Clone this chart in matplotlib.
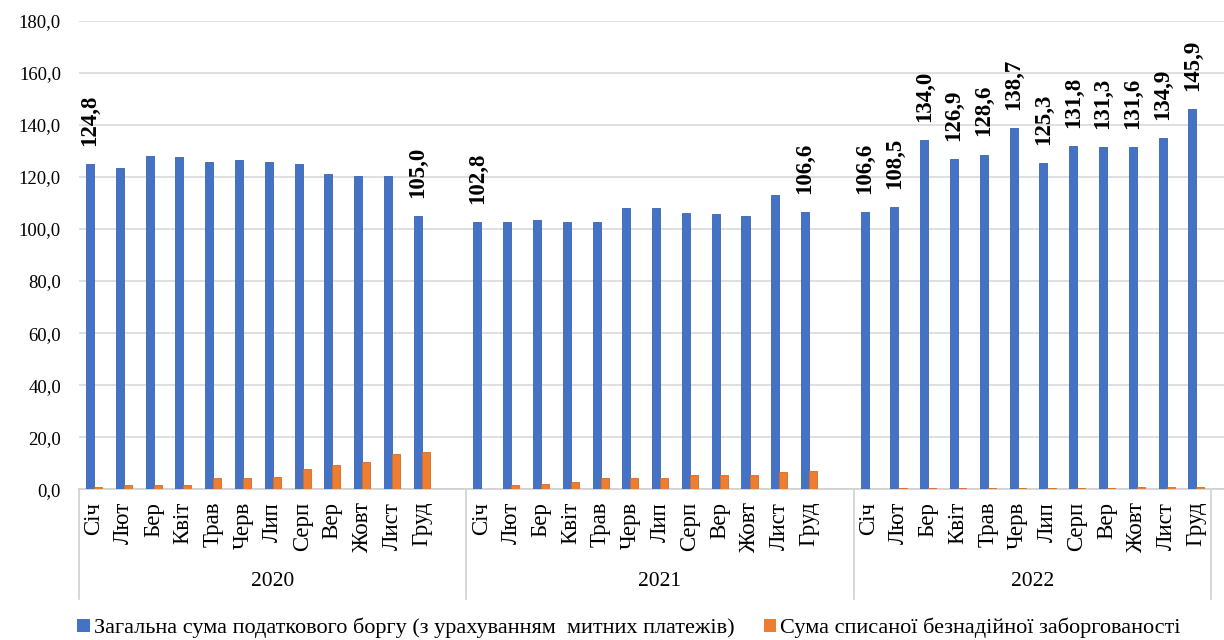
import numpy as np
import matplotlib
matplotlib.use("Agg")
import matplotlib.pyplot as plt
from matplotlib.patches import Patch
from matplotlib.ticker import FuncFormatter
import matplotlib.transforms as mtransforms

plt.rcParams['font.family'] = ['Liberation Serif', 'DejaVu Serif']

years = ['2020', '2021', '2022']
months = ['Січ', 'Лют', 'Бер', 'Квіт', 'Трав', 'Черв', 'Лип', 'Серп', 'Вер', 'Жовт', 'Лист', 'Груд']

# загальна сума податкового боргу, млрд грн
debt_2020 = [124.8, 123.6, 128.0, 127.5, 125.8, 126.4, 125.8, 124.8, 121.3, 120.2, 120.2, 105.0]
debt_2021 = [102.8, 102.8, 103.4, 102.8, 102.8, 107.9, 107.9, 106.1, 105.6, 105.0, 112.9, 106.6]
debt_2022 = [106.6, 108.5, 134.0, 126.9, 128.6, 138.7, 125.3, 131.8, 131.3, 131.6, 134.9, 145.9]

# сума списаної безнадійної заборгованості
writeoff_2020 = [1.0, 1.5, 1.5, 1.5, 4.4, 4.4, 4.9, 7.7, 9.4, 10.5, 13.4, 14.5]
writeoff_2021 = [0.0, 1.5, 2.2, 2.7, 4.4, 4.4, 4.4, 5.5, 5.5, 5.5, 6.7, 7.2]
writeoff_2022 = [0.0, 0.4, 0.5, 0.5, 0.5, 0.5, 0.5, 0.5, 0.5, 1.0, 1.0, 1.0]

# which bars carry a value label (month index per year)
labelled = [[0, 11], [0, 11], list(range(12))]

legend_names = ['Загальна сума податкового боргу (з урахуванням  митних платежів)',
                'Сума списаної безнадійної заборгованості']

BLUE = '#4472C4'
ORANGE = '#ED7D31'

debt = [debt_2020, debt_2021, debt_2022]
writeoff = [writeoff_2020, writeoff_2021, writeoff_2022]

fig = plt.figure(figsize=(12.24, 6.4), dpi=100)
ax = fig.add_axes([79 / 1224, 150.7 / 640, 1 - 79 / 1224, 468.6 / 640])

w = 0.27
xpos_all, xlab_all = [], []
for g in range(3):
    x = np.arange(12) + g * 13
    ax.bar(x - 0.13, debt[g], w, color=BLUE, edgecolor='#3A62AE', linewidth=0.6, zorder=3)
    ax.bar(x + 0.14, writeoff[g], w, color=ORANGE, edgecolor='#D86A20', linewidth=0.6, zorder=3)
    for i in labelled[g]:
        ax.annotate(f'{debt[g][i]:.1f}'.replace('.', ','), (x[i] - 0.13, debt[g][i]),
                    xytext=(0, 13), textcoords='offset points', rotation=90,
                    ha='center', va='bottom', fontsize=16.5, fontweight='bold')
    xpos_all += list(x)
    xlab_all += months

ax.set_xlim(-0.5, 37.93)
ax.set_ylim(0, 180)
ax.set_yticks(np.arange(0, 181, 20))
ax.yaxis.set_major_formatter(FuncFormatter(lambda v, p: f'{v:.1f}'.replace('.', ',')))
ax.tick_params(axis='y', length=0, pad=13, labelsize=13.5)
ax.set_xticks(xpos_all)
ax.set_xticklabels(xlab_all, rotation=90, fontsize=16.5)
ax.tick_params(axis='x', length=0, pad=9)
ax.grid(axis='y', color='#D9D9D9', linewidth=1.2, zorder=0)
for s in ['top', 'right', 'left']:
    ax.spines[s].set_visible(False)
ax.spines['bottom'].set_color('#D0D0D0')
ax.spines['bottom'].set_linewidth(1.2)

trans = mtransforms.blended_transform_factory(ax.transData, ax.transAxes)
for sx in [-0.5, 12.5, 25.5, 37.5]:
    ax.plot([sx, sx], [0, -0.235], color='#D0D0D0', linewidth=1.2,
            transform=trans, clip_on=False)
for g, yr in enumerate(years):
    left = -0.5 + g * 13
    right = min(left + 13, 37.5)
    ax.text((left + right) / 2, -0.196, yr, transform=trans, ha='center', va='center',
            fontsize=15.5)

handles = [Patch(facecolor=BLUE), Patch(facecolor=ORANGE)]
fig.legend(handles, legend_names, loc='center', bbox_to_anchor=(0.514, 0.019), ncol=2,
           frameon=False, fontsize=16, handlelength=0.55, handleheight=0.55,
           handletextpad=0.2, columnspacing=1.3)

fig.savefig('out.png', dpi=100)
